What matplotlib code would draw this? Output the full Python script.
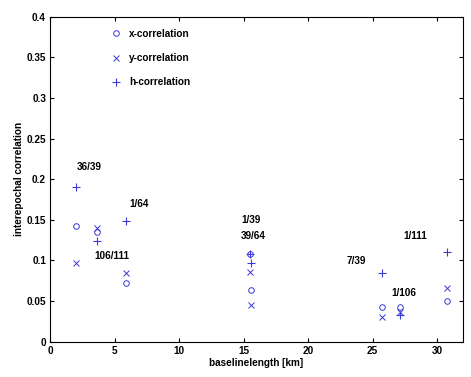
import matplotlib
matplotlib.use("Agg")
import matplotlib.pyplot as plt

plt.rcParams['font.family'] = ['Liberation Sans', 'DejaVu Sans']
plt.rcParams['font.weight'] = 'bold'

baseline = [2.0, 3.65, 5.9, 15.5, 15.6, 25.75, 27.15, 30.75]
x_corr = [0.143, 0.135, 0.072, 0.108, 0.064, 0.043, 0.043, 0.050]
y_corr = [0.097, 0.140, 0.085, 0.086, 0.045, 0.030, 0.036, 0.066]
h_corr = [0.190, 0.124, 0.149, 0.108, 0.097, 0.084, 0.033, 0.110]

pair_labels = ["36/39", "106/111", "1/64", "1/39", "39/64", "7/39", "1/106", "1/111"]
label_x = [2.05, 3.45, 6.15, 14.8, 14.8, 22.95, 26.45, 27.4]
label_y = [0.215, 0.105, 0.170, 0.150, 0.130, 0.0995, 0.0595, 0.1305]

xticks = [0, 5, 10, 15, 20, 25, 30]
yticks = [0, 0.05, 0.1, 0.15, 0.2, 0.25, 0.3, 0.35, 0.4]

fs = 7.2
col = '#3a3ad6'
fig = plt.figure(figsize=(4.71, 3.77), dpi=100)
ax = fig.add_axes([0.1067, 0.0936, 0.876, 0.862])

ax.plot(baseline, x_corr, linestyle='none', marker='o', mfc='none', mec=col, ms=4, mew=0.7, label='x-correlation')
ax.plot(baseline, y_corr, linestyle='none', marker='x', color=col, ms=4.5, mew=0.7, label='y-correlation')
ax.plot(baseline, h_corr, linestyle='none', marker='+', color=col, ms=6, mew=0.8, label='h-correlation')

for t, lx, ly in zip(pair_labels, label_x, label_y):
    ax.text(lx, ly, t, fontsize=fs, fontweight='bold', va='center', ha='left')

ax.set_xlim(0, 32)
ax.set_ylim(0, 0.4)
ax.set_xticks(xticks)
ax.set_yticks(yticks)
ax.set_xticklabels([str(v) for v in xticks])
ax.set_yticklabels(['0', '0.05', '0.1', '0.15', '0.2', '0.25', '0.3', '0.35', '0.4'])
ax.tick_params(direction='in', top=True, right=True, length=3, width=0.8, labelsize=fs, pad=3)
for lbl in ax.get_xticklabels() + ax.get_yticklabels():
    lbl.set_fontweight('bold')
for s in ax.spines.values():
    s.set_linewidth(0.8)

ax.set_xlabel('baselinelength [km]', fontsize=fs, fontweight='bold', labelpad=1.5)
ax.set_ylabel('interepochal correlation', fontsize=fs, fontweight='bold', labelpad=2)

leg = ax.legend(loc='upper left', bbox_to_anchor=(0.125, 0.99), frameon=False,
                prop={'weight': 'bold', 'size': fs}, labelspacing=1.42,
                handlelength=1.0, handletextpad=0.8)

fig.savefig('out.png', dpi=100)
